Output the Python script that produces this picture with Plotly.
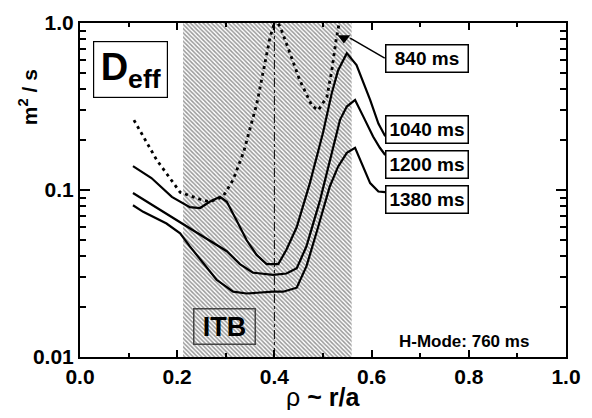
import plotly.graph_objects as go

# ---- data ----
rho_840 = [0.111, 0.158, 0.206, 0.247, 0.267, 0.294, 0.315, 0.337, 0.364, 0.381, 0.391, 0.402,
           0.412, 0.432, 0.452, 0.477, 0.490, 0.508, 0.518, 0.527, 0.537]
d_840 = [0.262, 0.151, 0.097, 0.088, 0.085, 0.091, 0.115, 0.17, 0.33, 0.575, 0.82, 1.05,
         0.95, 0.66, 0.456, 0.32, 0.30, 0.36, 0.52, 0.79, 1.15]

rho_1040 = [0.109, 0.147, 0.189, 0.226, 0.247, 0.267, 0.288, 0.302, 0.322, 0.343, 0.363, 0.384,
            0.408, 0.425, 0.446, 0.473, 0.500, 0.518, 0.531, 0.549, 0.569, 0.597, 0.614, 0.628]
d_1040 = [0.139, 0.118, 0.091, 0.079, 0.078, 0.085, 0.091, 0.085, 0.066, 0.050, 0.041, 0.036,
          0.036, 0.044, 0.060, 0.110, 0.22, 0.38, 0.52, 0.66, 0.56, 0.346, 0.25, 0.21]

rho_1200 = [0.109, 0.150, 0.192, 0.226, 0.267, 0.302, 0.329, 0.356, 0.397, 0.425, 0.446, 0.466,
            0.494, 0.518, 0.535, 0.549, 0.566, 0.583, 0.603, 0.617, 0.628]
d_1200 = [0.096, 0.081, 0.068, 0.059, 0.050, 0.043, 0.036, 0.032, 0.031, 0.0316, 0.034, 0.046,
          0.087, 0.167, 0.263, 0.316, 0.346, 0.275, 0.209, 0.179, 0.162]

rho_1380 = [0.109, 0.130, 0.178, 0.206, 0.226, 0.253, 0.281, 0.315, 0.343, 0.397, 0.418, 0.446,
            0.466, 0.490, 0.514, 0.531, 0.549, 0.566, 0.583, 0.597, 0.614, 0.628]
d_1380 = [0.081, 0.074, 0.063, 0.055, 0.046, 0.0365, 0.029, 0.0246, 0.024, 0.0246, 0.0246, 0.026,
          0.035, 0.060, 0.105, 0.138, 0.167, 0.179, 0.138, 0.110, 0.098, 0.097]

itb_range = [0.212, 0.559]
rho_line = 0.40
marker_840 = (0.543, 0.813)

series_labels = ["840 ms", "1040 ms", "1200 ms", "1380 ms"]
x_ticks = [0.0, 0.2, 0.4, 0.6, 0.8, 1.0]
x_ticktext = ["0.0", "0.2", "0.4", "0.6", "0.8", "1.0"]
y_ticks = [0.01, 0.1, 1.0]
y_ticktext = ["0.01", "0.1", "1.0"]
y_minor = [m * 10 ** e for e in (-2, -1) for m in range(2, 10)]

FONT = "Liberation Sans, Arial, sans-serif"

fig = go.Figure()

# hatched ITB region
fig.add_trace(go.Scatter(
    x=[itb_range[0], itb_range[1], itb_range[1], itb_range[0], itb_range[0]],
    y=[0.01, 0.01, 1.0, 1.0, 0.01],
    fill="toself", mode="none", showlegend=False, hoverinfo="skip",
    fillcolor="rgba(0,0,0,0)",
    fillpattern=dict(shape="\\", fgcolor="#333333", bgcolor="white", size=3, solidity=0.5),
))

fig.add_trace(go.Scatter(x=rho_840, y=d_840, mode="lines", showlegend=False,
                         line=dict(color="black", width=2.8, dash="3px,4px")))
for xs, ys in [(rho_1040, d_1040), (rho_1200, d_1200), (rho_1380, d_1380)]:
    fig.add_trace(go.Scatter(x=xs, y=ys, mode="lines", showlegend=False,
                             line=dict(color="black", width=2.2)))

fig.add_trace(go.Scatter(x=[marker_840[0]], y=[marker_840[1]], mode="markers", showlegend=False,
                         marker=dict(symbol="triangle-down", size=11, color="black")))

# vertical dash-dot line
fig.add_shape(type="line", xref="x", yref="paper", x0=rho_line, x1=rho_line, y0=0, y1=1,
              line=dict(color="black", width=1, dash="dashdot"))

# arrow line from 840 label
fig.add_shape(type="line", xref="paper", yref="paper", x0=0.627, y0=0.895, x1=0.556, y1=0.955,
              line=dict(color="black", width=1.5))

annotations = []
label_y = [0.893, 0.682, 0.575, 0.473]
for lab, yy in zip(series_labels, label_y):
    annotations.append(dict(xref="paper", yref="paper", x=0.715, y=yy, text="<b>%s</b>" % lab,
                            showarrow=False, font=dict(family=FONT, size=19, color="black"),
                            bordercolor="black", borderwidth=1.5, borderpad=1,
                            bgcolor="white", width=79, height=24, xanchor="center", yanchor="middle"))

annotations.append(dict(xref="paper", yref="paper", x=0.104, y=0.861,
                        text="<b>D<sub>eff</sub></b>", showarrow=False,
                        font=dict(family=FONT, size=38, color="black"),
                        bordercolor="black", borderwidth=1.2, borderpad=1, bgcolor="white",
                        width=71, height=53, xanchor="center", yanchor="middle"))

annotations.append(dict(xref="paper", yref="paper", x=0.298, y=0.090,
                        text="<b>ITB</b>", showarrow=False,
                        font=dict(family=FONT, size=27, color="black"),
                        bordercolor="#444444", borderwidth=1.5, borderpad=1,
                        width=58, height=32, xanchor="center", yanchor="middle"))

annotations.append(dict(xref="paper", yref="paper", x=0.790, y=0.045,
                        text="<b>H-Mode: 760 ms</b>", showarrow=False,
                        font=dict(family=FONT, size=17, color="black"),
                        xanchor="center", yanchor="middle"))

annotations.append(dict(xref="paper", yref="paper", x=0.5, y=-0.12,
                        text="ρ <b>~ r/a</b>", showarrow=False,
                        font=dict(family=FONT, size=25, color="black"),
                        xanchor="center", yanchor="middle"))

annotations.append(dict(xref="paper", yref="paper", x=-0.107, y=0.778,
                        text="<b>m<sup>2</sup> / s</b>", showarrow=False, textangle=-90,
                        font=dict(family=FONT, size=21, color="black"),
                        xanchor="center", yanchor="middle"))

# page body has an 8px margin: compensate so the plot area lands at x 80..566, y 23..357
fig.update_layout(
    width=576, height=402,
    margin=dict(l=72, r=18, t=15, b=53, autoexpand=False),
    plot_bgcolor="white", paper_bgcolor="white",
    annotations=annotations,
    font=dict(family=FONT, color="black"),
)

fig.update_xaxes(
    range=[0, 1], tickvals=x_ticks, ticktext=x_ticktext, automargin=False,
    ticks="inside", ticklen=7, tickwidth=1.5, tickcolor="black",
    showline=True, linecolor="black", linewidth=2, mirror="ticks",
    showgrid=False, zeroline=False,
    tickfont=dict(family=FONT, size=21, color="black", weight="bold"),
    minor=dict(dtick=0.1, tick0=0, ticks="inside", ticklen=4, tickwidth=1.5, tickcolor="black", showgrid=False),
)
fig.update_yaxes(
    type="log", range=[-2, 0], tickvals=y_ticks, ticktext=y_ticktext, automargin=False,
    ticks="inside", ticklen=10, tickwidth=1.5, tickcolor="black",
    showline=True, linecolor="black", linewidth=2, mirror="ticks",
    showgrid=False, zeroline=False,
    tickfont=dict(family=FONT, size=21, color="black", weight="bold"),
    minor=dict(tickvals=y_minor, ticks="inside", ticklen=6, tickwidth=1.5, tickcolor="black", showgrid=False),
)

fig.write_html("out.html")
